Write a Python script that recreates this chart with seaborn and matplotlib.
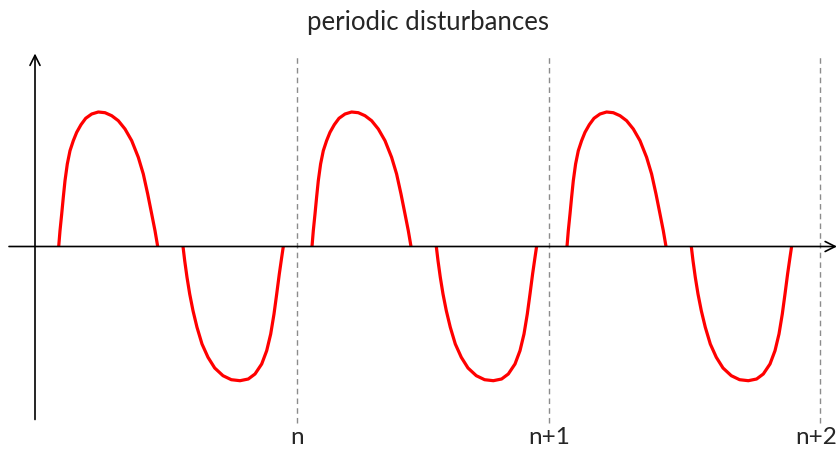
import pandas as pd
import matplotlib
matplotlib.use('Agg')
import matplotlib.pyplot as plt
import seaborn as sns

# One positive and one negative half-wave (offset along x inside the lobe, amplitude)
pos_lobe_x = [0, 1.3, 3, 4.6, 6.3, 8.6, 11.3, 14.6, 18, 22.3, 27, 33, 39.6, 46.3,
              53, 59.6, 66.3, 73, 79.6, 84.6, 89, 93, 96.3, 99]
pos_lobe_y = [0, 15.8, 32.5, 49.2, 65.8, 82.5, 95.8, 105.8, 114.2, 121.8, 128.2, 132.5, 134.5, 133.8,
              130.8, 125.8, 117.5, 105.8, 89.2, 72.5, 52.5, 32.5, 15.8, 0]
neg_lobe_x = [0, 1.7, 4, 6.7, 10, 14, 19, 25, 31.7, 40, 48.3, 57, 65.3,
              72, 78.7, 83.7, 87.7, 91, 93.7, 96.3, 98.7, 100.3]
neg_lobe_y = [0, -14.2, -30.8, -47.5, -64.2, -80.8, -97.5, -110.8, -121.5, -129.2, -133.2, -134.2, -132.5,
              -127.5, -117.5, -104.2, -87.5, -67.5, -47.5, -27.5, -10.8, 0]
neg_lobe_offset = 124.3

# Where each period's positive lobe starts
period_starts = [23.7, 277, 532]

# Period boundaries
boundary_x = [262, 514, 785]
boundary_labels = ['n', 'n+1', 'n+2']
label_x = [262, 514, 781]

title = 'periodic disturbances'

# Build the curve table
rows = []
seg = 0
for start in period_starts:
    for x, y in zip(pos_lobe_x, pos_lobe_y):
        rows.append({'seg': seg, 't': start + x, 'v': y})
    seg += 1
    for x, y in zip(neg_lobe_x, neg_lobe_y):
        rows.append({'seg': seg, 't': start + neg_lobe_offset + x, 'v': y})
    seg += 1
curve = pd.DataFrame(rows)

sns.set_style('white')
plt.rcParams['font.family'] = ['Lato', 'DejaVu Sans']

fig = plt.figure(figsize=(8.38, 4.52), dpi=100)
ax = fig.add_axes([0, 0, 1, 1])

# Dashed period boundaries
ax.vlines(boundary_x, -176, 193, colors='#8c8c8c', linestyles=(0, (4, 3)), lw=1)

# Axes with arrows
ax.annotate('', xy=(802, 0), xytext=(-26, 0),
            arrowprops=dict(arrowstyle='->', lw=1.2, color='black', mutation_scale=18, shrinkA=0, shrinkB=0))
ax.annotate('', xy=(0, 193), xytext=(0, -173),
            arrowprops=dict(arrowstyle='->', lw=1.2, color='black', mutation_scale=18, shrinkA=0, shrinkB=0))

# Red disturbance curve
sns.lineplot(data=curve, x='t', y='v', units='seg', estimator=None, sort=False,
             color='#ff0000', lw=2.3, ax=ax, legend=False,
             solid_joinstyle='round', solid_capstyle='butt')
ax.set_xlim(-35, 803)
ax.set_ylim(-204.5, 247.5)
ax.axis('off')

for x, lab in zip(label_x, boundary_labels):
    ax.text(x, -190, lab, ha='center', va='center', fontsize=17.5)

ax.text(393, 225, title, ha='center', va='center', fontsize=18.5)

plt.savefig('out.png', dpi=100)
